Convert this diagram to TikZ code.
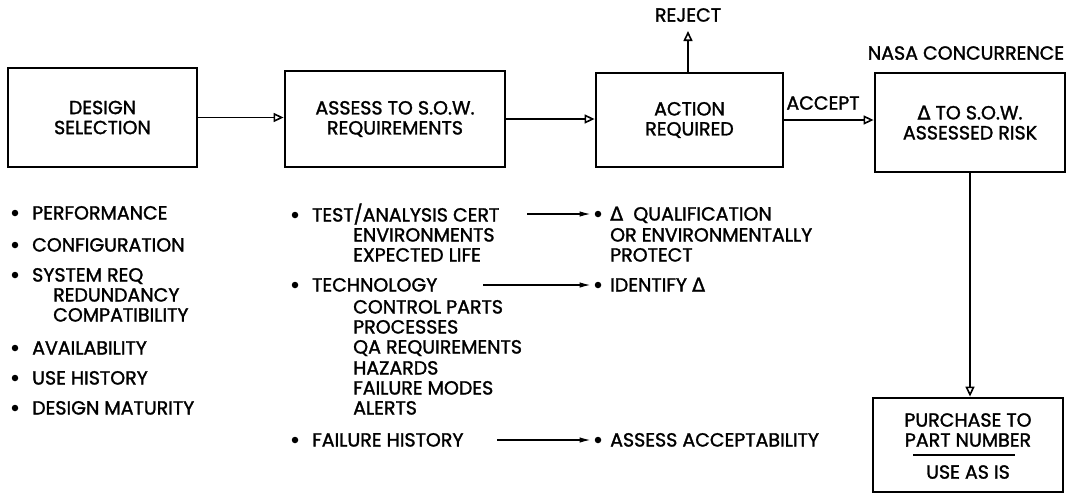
\documentclass[tikz,border=0pt]{standalone}
\usepackage{fontspec}
\setmainfont{Poppins}[FakeBold=1.5]
\newfontfamily\dvfont{DejaVu Sans}[FakeBold=1.5]
\usetikzlibrary{arrows.meta}
\newcommand{\dlt}{{\dvfont Δ}}
\begin{document}
\begin{tikzpicture}[x=1pt,y=-1pt,
  every node/.style={font=\fontsize{19}{20}\selectfont},
  box/.style={draw, line width=2.8pt, inner sep=0pt, align=center},
  txt/.style={anchor=base west, inner sep=0pt},
  lbl/.style={inner sep=0pt},
  bul/.style={circle, fill, inner sep=0pt, minimum size=6.5pt},
  arr/.style={line width=1.8pt, -{Triangle[open,length=10pt,width=9pt,line width=1.6pt]}},
  larr/.style={line width=1.3pt, -{Latex[length=11pt,width=5.5pt]}}]
\useasboundingbox (0,0) rectangle (1073,493);
% boxes
\node[box, minimum width=189pt, minimum height=99pt] (b1) at (102.5,117.5) {DESIGN\\SELECTION};
\node[box, minimum width=220pt, minimum height=96pt] (b2) at (395,119) {ASSESS TO S.O.W.\\REQUIREMENTS};
\node[box, minimum width=187pt, minimum height=94pt] (b3) at (689.5,120) {ACTION\\REQUIRED};
\node[box, minimum width=190pt, minimum height=99pt] (b4) at (970,122.5) {\dlt\ TO S.O.W.\\ASSESSED RISK};
\node[box, minimum width=190pt, minimum height=94pt] (b5) at (968,445) {};
\node[lbl, align=center] (p5) at (968,430) {PURCHASE TO\\PART NUMBER};
\node[lbl] (u5) at (968,472) {USE AS IS};
\coordinate (r5a) at (913,455);
\coordinate (r5b) at (1015,455);
\draw[line width=1.2pt] (r5a) -- (r5b);
% labels
\node[lbl] (rejl) at (688,15) {REJECT};
\coordinate (rej) at (688,31);
\node[lbl] (nasa) at (966,53) {NASA CONCURRENCE};
\node[lbl] (acc) at (823,103) {ACCEPT};
% main arrows
\draw[arr] (b1.east) -- (b1.east -| b2.west);
\draw[arr] (b2.east) -- (b2.east -| b3.west);
\draw[arr] (b3.east) -- (b3.east -| b4.west);
\draw[arr] (b3.north -| rej) -- (rej);
\draw[arr] (b4.south) -- (b4.south |- b5.north);
% left list
\node[bul] (l1b) at (15,213) {}; \node[txt] (l1) at (32,219.5) {PERFORMANCE};
\node[bul] (l2b) at (15,245) {}; \node[txt] (l2) at (32,251.5) {CONFIGURATION};
\node[bul] (l3b) at (15,275) {}; \node[txt] (l3) at (32,281.5) {SYSTEM REQ};
\node[txt] (l3a) at (53,301.5) {REDUNDANCY};
\node[txt] (l3c) at (53,321.5) {COMPATIBILITY};
\node[bul] (l4b) at (15,348) {}; \node[txt] (l4) at (32,354.5) {AVAILABILITY};
\node[bul] (l5b) at (15,378) {}; \node[txt] (l5) at (32,384.5) {USE HISTORY};
\node[bul] (l6b) at (15,408) {}; \node[txt] (l6) at (32,414.5) {DESIGN MATURITY};
% middle list
\node[bul] (m1b) at (295,215) {}; \node[txt] (m1) at (312,221.5) {TEST/ANALYSIS CERT};
\node[txt] (m1a) at (353,241.5) {ENVIRONMENTS};
\node[txt] (m1c) at (353,261.5) {EXPECTED LIFE};
\node[bul] (m2b) at (295,285) {}; \node[txt] (m2) at (312,291.5) {TECHNOLOGY};
\node[txt] (m2a) at (353,313.5) {CONTROL PARTS};
\node[txt] (m2c) at (353,333.5) {PROCESSES};
\node[txt] (m2d) at (353,353.5) {QA REQUIREMENTS};
\node[txt] (m2e) at (353,374.5) {HAZARDS};
\node[txt] (m2f) at (353,394.5) {FAILURE MODES};
\node[txt] (m2g) at (353,414.5) {ALERTS};
\node[bul] (m3b) at (295,440) {}; \node[txt] (m3) at (312,446.5) {FAILURE HISTORY};
% right list
\node[bul] (r1b) at (598,214) {}; \node[txt] (r1) at (610,220.5) {\dlt\ \ QUALIFICATION};
\node[txt] (r1a) at (610,241.5) {OR ENVIRONMENTALLY};
\node[txt] (r1c) at (610,261.5) {PROTECT};
\node[bul] (r2b) at (598,285) {}; \node[txt] (r2) at (610,291.5) {IDENTIFY \dlt};
\node[bul] (r3b) at (598,440) {}; \node[txt] (r3) at (610,446.5) {ASSESS ACCEPTABILITY};
% list arrows
\coordinate (a1) at (527,214);
\coordinate (a2) at (483,285);
\coordinate (a3) at (497,440);
\draw[larr, shorten >=4pt] (a1) -- (r1b.west);
\draw[larr, shorten >=4pt] (a2) -- (r2b.west);
\draw[larr, shorten >=4pt] (a3) -- (r3b.west);
\end{tikzpicture}
\end{document}
